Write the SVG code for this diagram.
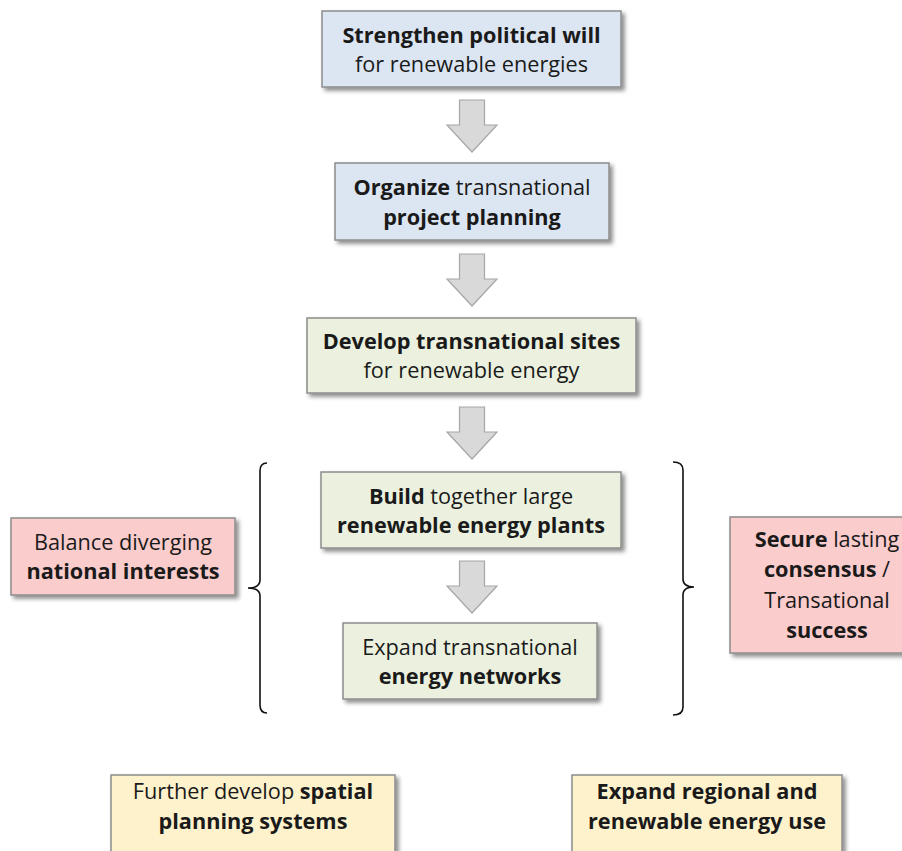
<svg xmlns="http://www.w3.org/2000/svg" width="902" height="851" viewBox="0 0 902 851">
  <defs>
    <filter id="shadow" x="-10%" y="-20%" width="130%" height="150%">
      <feDropShadow dx="3" dy="3" stdDeviation="2" flood-color="#000" flood-opacity="0.45"/>
    </filter>
    <path id="down-arrow" d="M-12.5,0 H12.5 V25 H25 L0,52 L-25,25 H-12.5 Z"/>
  </defs>
  <style>
    .box { stroke: #8c8c8c; stroke-width: 1.5; filter: url(#shadow); }
    .blue { fill: #dce6f2; }
    .green { fill: #ebf1de; }
    .pink { fill: #fbcccc; }
    .yellow { fill: #fef2cd; }
    text { font-family: "Open Sans", Lato, "Liberation Sans", sans-serif; font-size: 21.7px; fill: #1a1a1a; text-anchor: middle; }
    .b { font-weight: bold; }
    .arrow { fill: #d9d9d9; stroke: #a6a6a6; stroke-width: 1.2; }
    .brace { fill: none; stroke: #111; stroke-width: 1.6; }
  </style>

  <rect width="902" height="851" fill="#fff"/>

  <!-- connectors: block arrows and braces -->
  <g id="connectors">
    <use href="#down-arrow" class="arrow" x="472" y="100"/>
    <use href="#down-arrow" class="arrow" x="472" y="254"/>
    <use href="#down-arrow" class="arrow" x="472" y="407"/>
    <use href="#down-arrow" class="arrow" x="472" y="561"/>
    <path class="brace" d="M267,463 Q260,463 260,471 V580 Q260,588 248,588 Q260,588 260,596 V705 Q260,713 267,713"/>
    <path class="brace" d="M673,462 Q683,462 683,470 V579 Q683,587 694,587 Q683,587 683,595 V707 Q683,715 673,715"/>
  </g>

  <g id="node-political-will">
    <rect class="box blue" x="322" y="11" width="299" height="76"/>
    <text x="471.5" y="43" class="b">Strengthen political will</text>
    <text x="471.5" y="72">for renewable energies</text>
  </g>

  <g id="node-project-planning">
    <rect class="box blue" x="335" y="163" width="274" height="77"/>
    <text x="472" y="195"><tspan class="b">Organize</tspan> transnational</text>
    <text x="472" y="225" class="b">project planning</text>
  </g>

  <g id="node-sites">
    <rect class="box green" x="307" y="318" width="329" height="75"/>
    <text x="471.5" y="349" class="b">Develop transnational sites</text>
    <text x="471.5" y="378">for renewable energy</text>
  </g>

  <g id="node-plants">
    <rect class="box green" x="321" y="472" width="300" height="76"/>
    <text x="471" y="504"><tspan class="b">Build</tspan> together large</text>
    <text x="471" y="533" class="b">renewable energy plants</text>
  </g>

  <g id="node-networks">
    <rect class="box green" x="343" y="623" width="254" height="76"/>
    <text x="470" y="655">Expand transnational</text>
    <text x="470" y="684" class="b">energy networks</text>
  </g>

  <g id="node-national-interests">
    <rect class="box pink" x="11" y="518" width="224" height="77"/>
    <text x="123" y="550">Balance diverging</text>
    <text x="123" y="579" class="b">national interests</text>
  </g>

  <g id="node-consensus">
    <rect class="box pink" x="730" y="517" width="194" height="136"/>
    <text x="827" y="547"><tspan class="b">Secure</tspan> lasting</text>
    <text x="827" y="577"><tspan class="b">consensus</tspan> /</text>
    <text x="827" y="608">Transational</text>
    <text x="827" y="638" class="b">success</text>
  </g>

  <g id="node-spatial-planning">
    <rect class="box yellow" x="111" y="775" width="284" height="90"/>
    <text x="253" y="799">Further develop <tspan class="b">spatial</tspan></text>
    <text x="253" y="829" class="b">planning systems</text>
  </g>

  <g id="node-regional-use">
    <rect class="box yellow" x="572" y="775" width="270" height="90"/>
    <text x="707" y="799" class="b">Expand regional and</text>
    <text x="707" y="829" class="b">renewable energy use</text>
  </g>
</svg>
